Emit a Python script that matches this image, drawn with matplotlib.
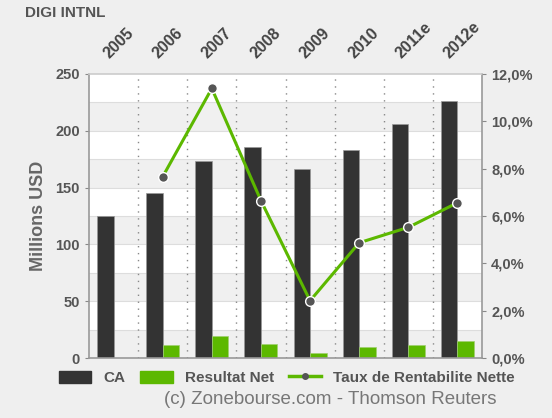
import matplotlib
matplotlib.use("Agg")
import matplotlib.pyplot as plt
import matplotlib.transforms as mtrans
import numpy as np
from matplotlib.lines import Line2D
from matplotlib.patches import Patch

plt.rcParams['font.family'] = ['Liberation Sans', 'DejaVu Sans']

years = ["2005", "2006", "2007", "2008", "2009", "2010", "2011e", "2012e"]
ca = [125.3, 145.0, 173.7, 185.5, 166.1, 182.8, 205.7, 226.5]
resultat_net = [0.0, 11.4, 19.7, 12.6, 4.1, 9.4, 11.5, 15.2]
taux = [np.nan, 7.66, 11.39, 6.65, 2.42, 4.87, 5.52, 6.56]

bg = "#efefef"
dark = "#333333"
green = "#5cb800"
txt = "#555555"

fig = plt.figure(figsize=(5.52, 4.18), dpi=100, facecolor=bg)
ax = fig.add_axes([89/552, 60/418, (482-89)/552, (358-74)/418])
ax.set_facecolor("white")
ax.set_xlim(-0.5, len(years) - 0.5)
ax.set_ylim(0, 250)

# alternating bands
for k in range(0, 250, 50):
    ax.axhspan(k, k + 25, color="#f0f0f0", zorder=0, lw=0)
for k in range(25, 250, 25):
    ax.axhline(k, color="#dddddd", lw=0.8, zorder=0.5)
for b in np.arange(0.5, len(years) - 0.5, 1):
    ax.axvline(b, color="#888888", lw=1.0, ls=(0, (1, 4)), zorder=0.6)

x = np.arange(len(years))
w = 0.335
ax.bar(x - w/2, ca, w, color=dark, edgecolor="#999999", lw=0.5, zorder=2)
ax.bar(x + w/2, resultat_net, w, color=green, edgecolor="#a0d070", lw=0.5, zorder=2)

ax.set_yticks([0, 50, 100, 150, 200, 250])
ax.tick_params(axis="y", colors="#888888", labelcolor=txt, labelsize=10.5, length=3, width=0.8)
for lab in ax.get_yticklabels():
    lab.set_fontweight("bold")
ax.set_ylabel("Millions USD", fontsize=13, fontweight="bold", color="#666666", labelpad=6)

ax.xaxis.tick_top()
ax.set_xticks(x)
ax.set_xticklabels(years, rotation=45, ha="center", va="bottom", fontsize=11.5, fontweight="bold", color="#444444")
ax.tick_params(axis="x", length=0, pad=9)
off = mtrans.ScaledTranslation(5/100, 0, fig.dpi_scale_trans)
for lab in ax.get_xticklabels():
    lab.set_transform(lab.get_transform() + off)

for s in ["left", "right", "bottom", "top"]:
    ax.spines[s].set_color("#999999")
    ax.spines[s].set_linewidth(1.2)
ax.spines["top"].set_color("#cccccc")

ax2 = ax.twinx()
ax2.set_ylim(0, 12)
ax2.set_yticks([0, 2, 4, 6, 8, 10, 12])
ax2.set_yticklabels([f"{v:.1f}%".replace(".", ",") for v in [0, 2, 4, 6, 8, 10, 12]])
ax2.tick_params(axis="y", colors="#888888", labelcolor=txt, labelsize=10.5, length=3, width=0.8)
for lab in ax2.get_yticklabels():
    lab.set_fontweight("bold")
for s in ["left", "right", "bottom", "top"]:
    ax2.spines[s].set_visible(False)
ax2.plot(x, taux, color=green, lw=2.2, marker="o", ms=7, mfc="#555555", mec="white", mew=1.0, zorder=3)

fig.text(25/552, 1 - 13/418, "DIGI INTNL", fontsize=11, fontweight="bold", color="#555555", va="center", ha="left")

handles = [Patch(facecolor=dark, edgecolor=dark),
           Patch(facecolor=green, edgecolor=green),
           Line2D([0], [0], color=green, lw=2.5, marker="o", ms=4, mfc="#555555", mec="#555555")]
leg = fig.legend(handles, ["CA", "Resultat Net", "Taux de Rentabilite Nette"],
                 loc="center", bbox_to_anchor=(287/552, 1 - 378/418), ncol=3, frameon=False,
                 fontsize=11, handlelength=2.1, handleheight=0.8, columnspacing=1.0, handletextpad=0.8)
for t in leg.get_texts():
    t.set_fontweight("bold")
    t.set_color("#555555")

fig.text(330/552, 1 - 400/418, "(c) Zonebourse.com - Thomson Reuters", fontsize=13.5, color="#777777",
         ha="center", va="center")

fig.savefig("out.png", dpi=100, facecolor=bg)
